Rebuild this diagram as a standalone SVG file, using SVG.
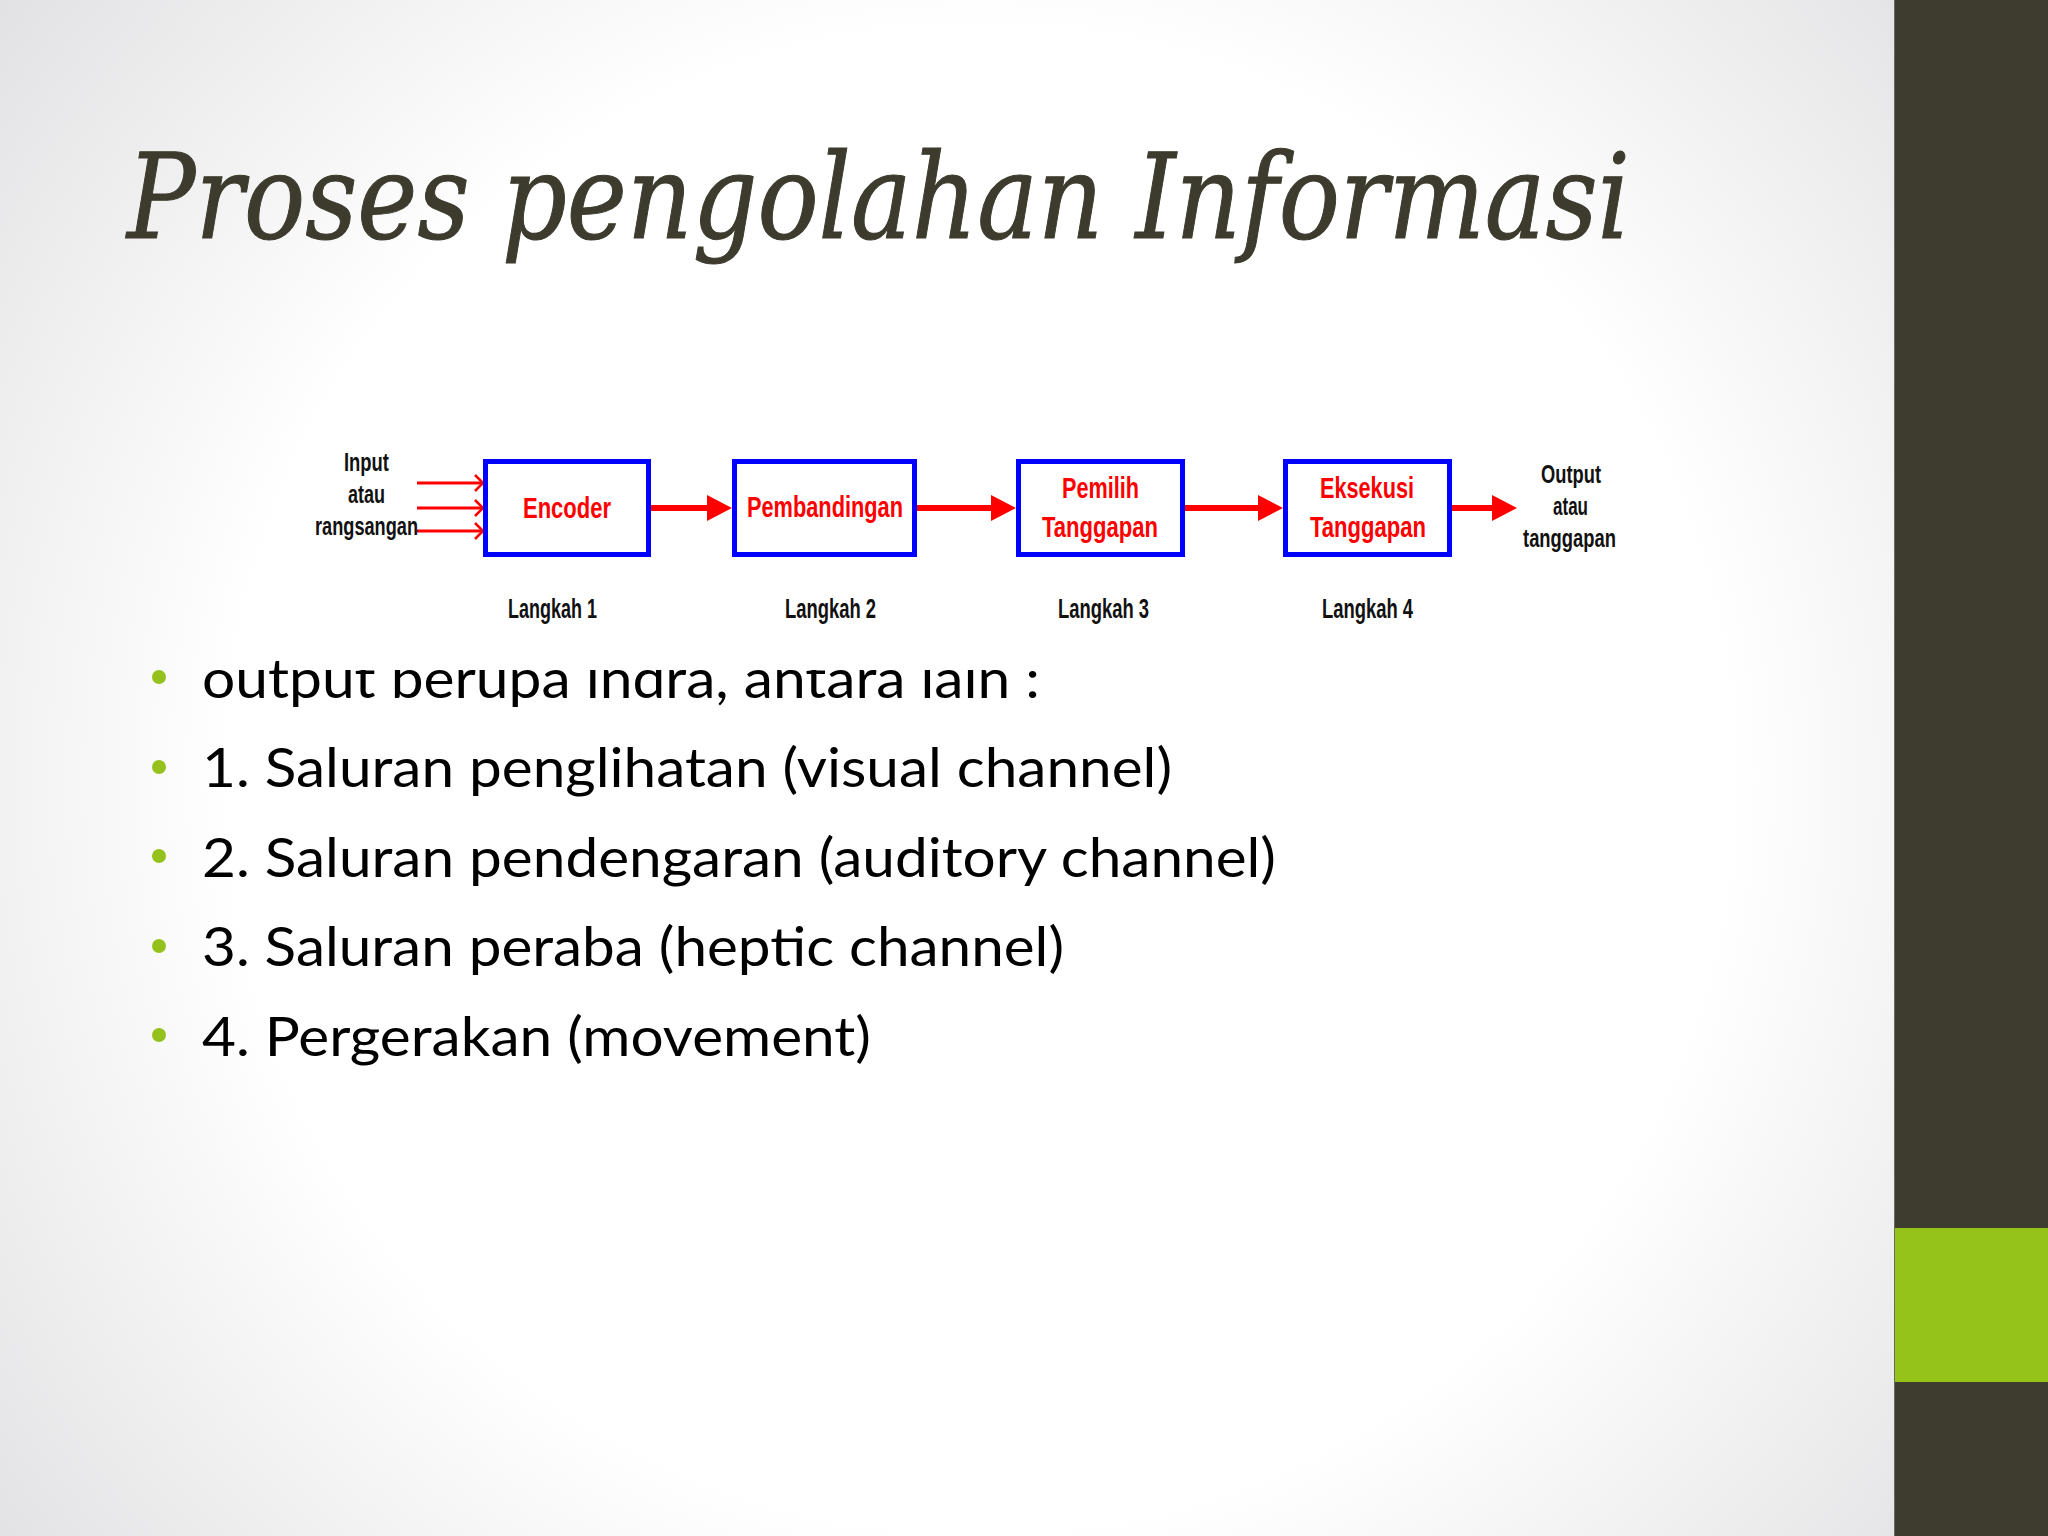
<svg xmlns="http://www.w3.org/2000/svg" width="2048" height="1536" viewBox="0 0 2048 1536">
  <defs>
    <radialGradient id="bg" gradientUnits="userSpaceOnUse" cx="980" cy="780" r="1250">
      <stop offset="0" stop-color="#ffffff"/>
      <stop offset="0.6" stop-color="#ffffff"/>
      <stop offset="1" stop-color="#e2e2e4"/>
    </radialGradient>
    <marker id="head" markerUnits="userSpaceOnUse" markerWidth="26" markerHeight="26" refX="0" refY="13" orient="auto" overflow="visible">
      <path d="M0,0 L25,13 L0,26 Z" fill="#ff0000"/>
    </marker>
    <marker id="open" markerUnits="userSpaceOnUse" markerWidth="12" markerHeight="18" refX="9" refY="9" orient="auto" overflow="visible">
      <path d="M1,1 L9,9 L1,17" fill="none" stroke="#ff0000" stroke-width="2.5"/>
    </marker>
    <style>
      .box { fill: #ffffff; stroke: #0000ff; stroke-width: 5; }
      .red { font-family: "Liberation Sans Narrow", "Liberation Sans", Arial, sans-serif; font-weight: bold; font-size: 30px; fill: #ff0000; text-anchor: middle; }
      .blk { font-family: "Liberation Sans Narrow", "Liberation Sans", Arial, sans-serif; font-weight: bold; font-size: 26px; fill: #111111; text-anchor: middle; }
      .step { font-family: "Liberation Sans Narrow", "Liberation Sans", Arial, sans-serif; font-weight: bold; font-size: 27px; fill: #111111; text-anchor: middle; }
      .flow { stroke: #ff0000; stroke-width: 6; fill: none; }
      .in { stroke: #ff0000; stroke-width: 3; fill: none; }
      .bul { font-family: Lato, "Open Sans", sans-serif; font-size: 54px; fill: #000000; }
      .dot { fill: #94c11c; }
      .title { font-family: "DejaVu Serif", serif; font-style: italic; font-stretch: condensed; font-size: 117px; fill: #3c3b2d; stroke: #3c3b2d; stroke-width: 1; }
    </style>
  </defs>

  <rect x="0" y="0" width="2048" height="1536" fill="url(#bg)"/>

  <!-- right side bar -->
  <rect x="1894" y="0" width="154" height="1536" fill="#3e3c2e"/>
  <rect x="1894" y="1228" width="154" height="154" fill="#96c31a"/>
  <line x1="1894.5" y1="0" x2="1894.5" y2="1536" stroke="#6b6a60" stroke-width="1"/>

  <!-- title -->
  <text class="title" x="127" y="238" textLength="1503" lengthAdjust="spacingAndGlyphs">Proses pengolahan Informasi</text>

  <!-- bullet list -->
  <g id="bullets">
    <circle class="dot" cx="159" cy="677" r="7"/>
    <text class="bul" x="202" y="698" textLength="838" lengthAdjust="spacingAndGlyphs">output berupa indra, antara lain :</text>
    <circle class="dot" cx="159" cy="767" r="7"/>
    <text class="bul" x="202" y="787" textLength="970" lengthAdjust="spacingAndGlyphs">1. Saluran penglihatan (visual channel)</text>
    <circle class="dot" cx="159" cy="856" r="7"/>
    <text class="bul" x="202" y="877" textLength="1074" lengthAdjust="spacingAndGlyphs">2. Saluran pendengaran (auditory channel)</text>
    <circle class="dot" cx="159" cy="946" r="7"/>
    <text class="bul" x="202" y="966" textLength="862" lengthAdjust="spacingAndGlyphs">3. Saluran peraba (heptic channel)</text>
    <circle class="dot" cx="159" cy="1035" r="7"/>
    <text class="bul" x="202" y="1056" textLength="669" lengthAdjust="spacingAndGlyphs">4. Pergerakan (movement)</text>
  </g>

  <!-- diagram picture background (covers top of first bullet line) -->
  <rect x="300" y="440" width="1340" height="230" fill="#ffffff"/>

  <g id="connectors">
    <line class="in" x1="417" y1="483" x2="483" y2="483" marker-end="url(#open)"/>
    <line class="in" x1="417" y1="508" x2="483" y2="508" marker-end="url(#open)"/>
    <line class="in" x1="417" y1="531" x2="483" y2="531" marker-end="url(#open)"/>
    <line class="flow" x1="651" y1="508" x2="707" y2="508" marker-end="url(#head)"/>
    <line class="flow" x1="917" y1="508" x2="991" y2="508" marker-end="url(#head)"/>
    <line class="flow" x1="1185" y1="508" x2="1258" y2="508" marker-end="url(#head)"/>
    <line class="flow" x1="1452" y1="508" x2="1492" y2="508" marker-end="url(#head)"/>
  </g>

  <g id="input-label">
    <text class="blk" x="366.5" y="471" textLength="45" lengthAdjust="spacingAndGlyphs">Input</text>
    <text class="blk" x="366.5" y="503" textLength="37" lengthAdjust="spacingAndGlyphs">atau</text>
    <text class="blk" x="366.5" y="535" textLength="103" lengthAdjust="spacingAndGlyphs">rangsangan</text>
  </g>

  <g id="encoder">
    <rect class="box" x="485.5" y="461.5" width="163" height="93"/>
    <text class="red" x="567" y="518" textLength="88" lengthAdjust="spacingAndGlyphs">Encoder</text>
    <text class="step" x="552.5" y="618" textLength="89" lengthAdjust="spacingAndGlyphs">Langkah 1</text>
  </g>

  <g id="pembandingan">
    <rect class="box" x="734.5" y="461.5" width="180" height="93"/>
    <text class="red" x="825" y="517" textLength="156" lengthAdjust="spacingAndGlyphs">Pembandingan</text>
    <text class="step" x="830.5" y="618" textLength="91" lengthAdjust="spacingAndGlyphs">Langkah 2</text>
  </g>

  <g id="pemilih">
    <rect class="box" x="1018.5" y="461.5" width="164" height="93"/>
    <text class="red" x="1100.5" y="498" textLength="77" lengthAdjust="spacingAndGlyphs">Pemilih</text>
    <text class="red" x="1100" y="537" textLength="116" lengthAdjust="spacingAndGlyphs">Tanggapan</text>
    <text class="step" x="1103.5" y="618" textLength="91" lengthAdjust="spacingAndGlyphs">Langkah 3</text>
  </g>

  <g id="eksekusi">
    <rect class="box" x="1285.5" y="461.5" width="164" height="93"/>
    <text class="red" x="1367" y="498" textLength="94" lengthAdjust="spacingAndGlyphs">Eksekusi</text>
    <text class="red" x="1368" y="537" textLength="116" lengthAdjust="spacingAndGlyphs">Tanggapan</text>
    <text class="step" x="1367.5" y="618" textLength="91" lengthAdjust="spacingAndGlyphs">Langkah 4</text>
  </g>

  <g id="output-label">
    <text class="blk" x="1571" y="483" textLength="60" lengthAdjust="spacingAndGlyphs">Output</text>
    <text class="blk" x="1570.5" y="515" textLength="35" lengthAdjust="spacingAndGlyphs">atau</text>
    <text class="blk" x="1569.5" y="547" textLength="93" lengthAdjust="spacingAndGlyphs">tanggapan</text>
  </g>
</svg>
